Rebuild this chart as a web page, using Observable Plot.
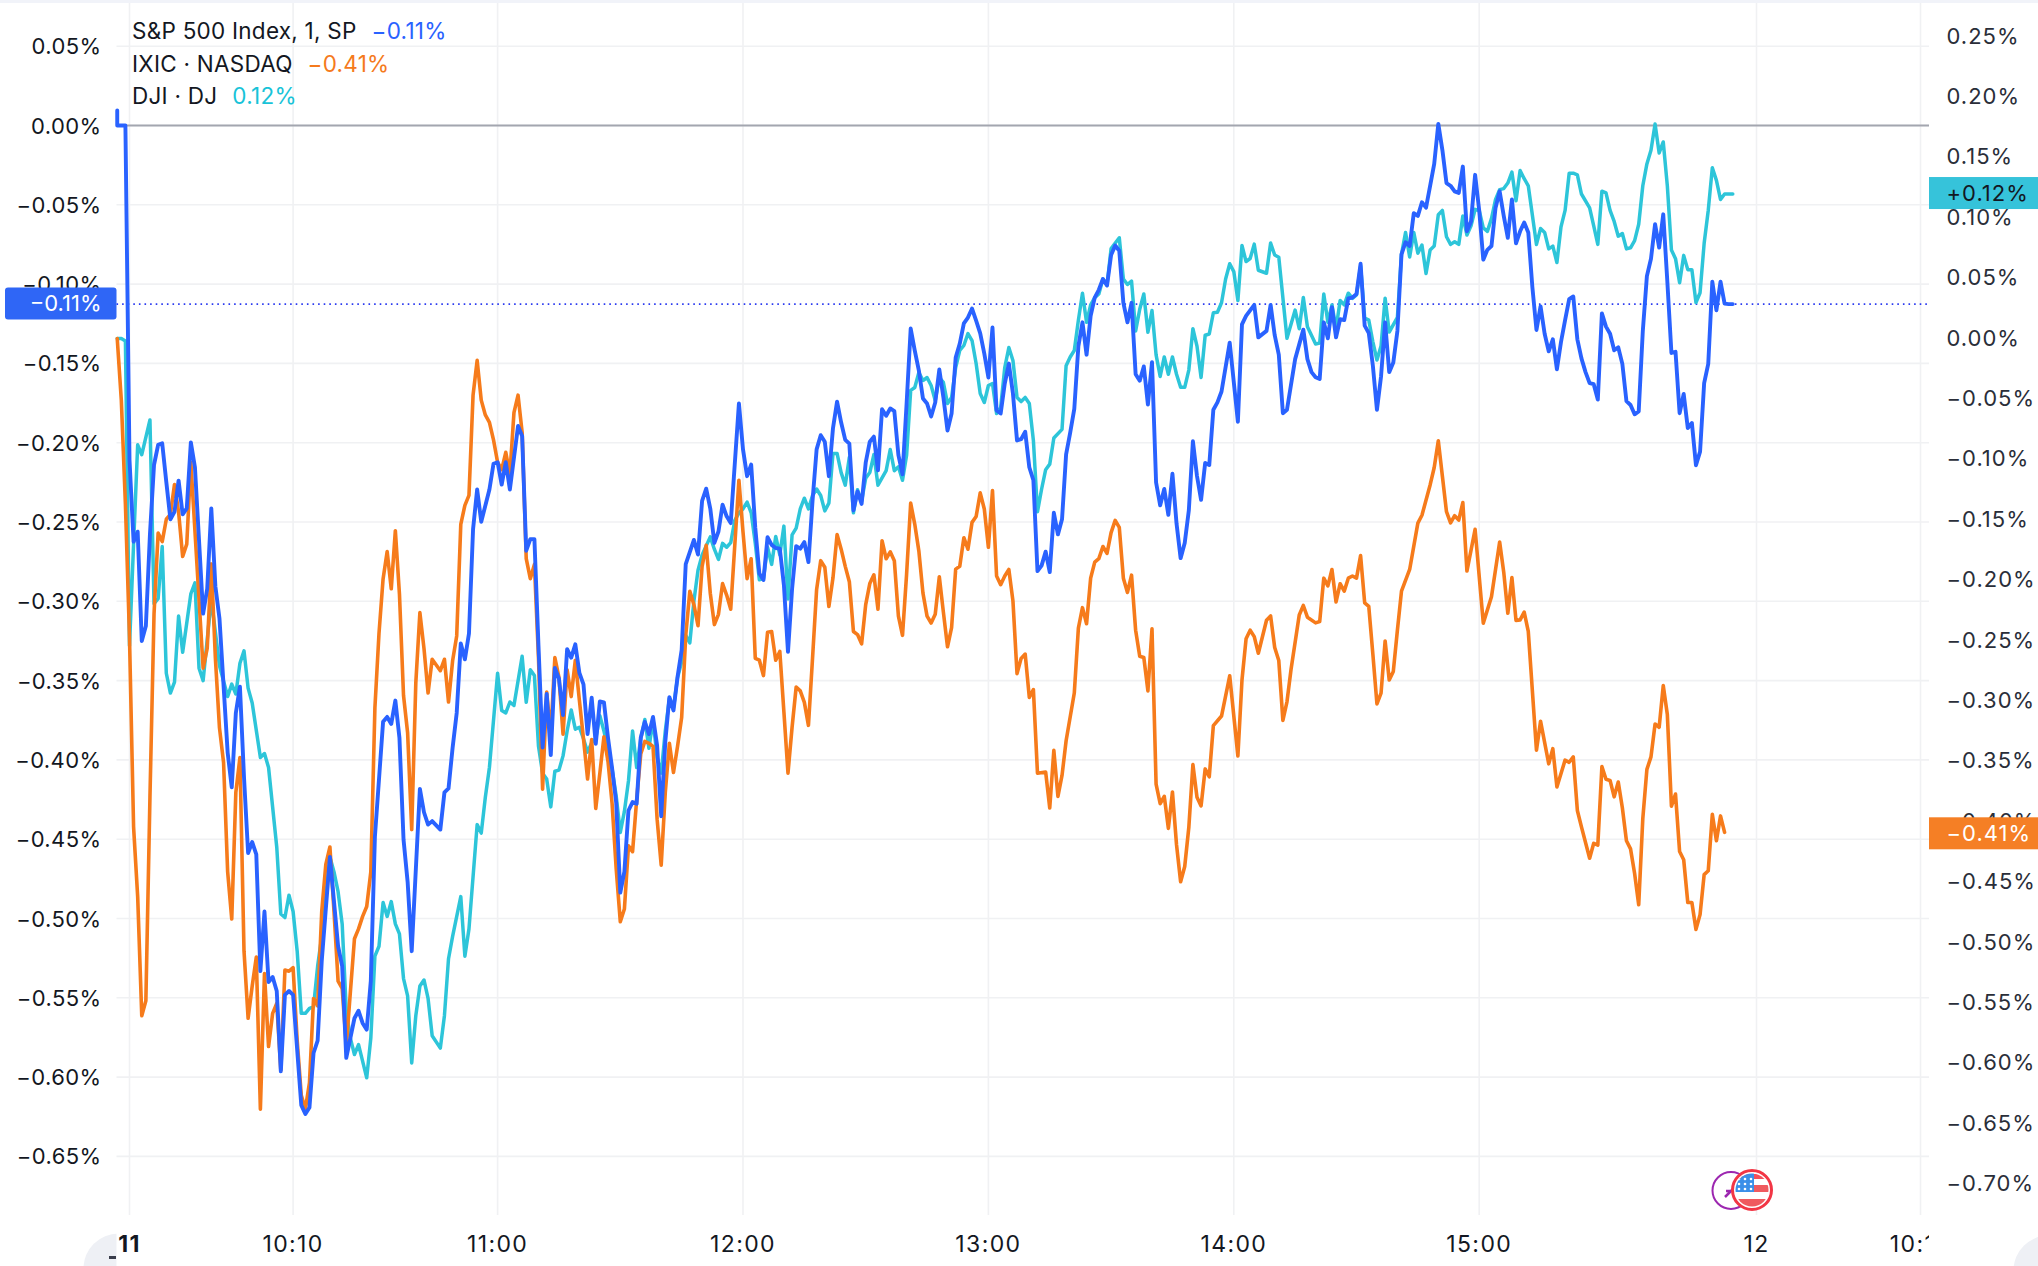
<!DOCTYPE html>
<html>
<head>
<meta charset="utf-8">
<script src="https://cdn.jsdelivr.net/npm/d3@7"></script>
<script src="https://cdn.jsdelivr.net/npm/@observablehq/plot@0.6"></script>
<style>
  html,body{margin:0;padding:0;background:#fff;overflow:hidden}
  #wrap{position:relative;width:2038px;height:1266px}
  #legend{position:absolute;left:132px;top:15px;font:22.5px/32.7px Inter,sans-serif;color:#131722;letter-spacing:.25px}
  #legend span{margin-left:15px}
</style>
</head>
<body>
<div id="wrap"><div id="chart"></div><div id="legend"></div></div>
<script>
// Bars are minutes of the session counted from the 09:30 open (pre-open bars are negative).
// S&P 500 is read on the left axis, IXIC and DJI on the right axis (percent).
const spx = [[-3,.0095],[-3,0],[-2,0],[-1,0],[0,-.2108],[1,-.2624],[2,-.2561],[3,-.325],[4,-.3156],[5,-.2577],[6,-.2139],[7,-.2014],[8,-.2004],[9,-.2248],[10,-.2483],[11,-.2436],[12,-.2239],[13,-.2452],[14,-.2414],[15,-.1998],[16,-.2155],[18,-.3078],[19,-.2921],[20,-.2414],[21,-.2906],[22,-.3109],[24,-.3954],[25,-.4173],[26,-.3704],[27,-.3538],[28,-.4111],[29,-.4587],[30,-.4518],[31,-.4596],[32,-.5332],[33,-.4956],[34,-.54],[35,-.5369],[36,-.5457],[37,-.5964],[38,-.5482],[39,-.5457],[40,-.5482],[42,-.6177],[43,-.6233],[44,-.6192],[45,-.5848],[46,-.577],[47,-.5269],[49,-.4612],[51,-.5175],[52,-.53],[53,-.5879],[55,-.5629],[56,-.5582],[57,-.566],[58,-.5701],[59,-.5394],[60,-.4486],[62,-.376],[63,-.3729],[64,-.3773],[65,-.3626],[66,-.386],[67,-.4502],[68,-.4768],[69,-.5206],[71,-.4183],[72,-.433],[73,-.4408],[74,-.4386],[76,-.4439],[77,-.4205],[78,-.418],[79,-.3923],[80,-.3704],[81,-.3266],[82,-.3366],[83,-.3203],[84,-.2546],[85,-.2295],[86,-.2499],[88,-.2295],[89,-.2133],[90,-.2123],[91,-.2264],[92,-.2123],[93,-.2295],[95,-.1895],
[96,-.1958],[97,-.2681],[98,-.2608],[99,-.2608],[100,-.3283],[101,-.3922],[102,-.3584],[103,-.397],[104,-.342],[105,-.3488],[106,-.3717],[107,-.3302],[108,-.3355],[109,-.3271],[110,-.3452],[111,-.3524],[112,-.3837],[113,-.3608],[114,-.3898],[115,-.3632],[116,-.3637],[117,-.3861],[118,-.4054],[119,-.4271],[120,-.4837],[121,-.4705],[122,-.4319],[123,-.4266],[124,-.4276],[125,-.3861],[126,-.376],[127,-.3837],[128,-.3729],[129,-.391],[130,-.4355],[131,-.3886],[132,-.3604],[133,-.3688],[134,-.3476],[135,-.3307],[136,-.2765],[138,-.2613],[139,-.2705],[140,-.2367],[141,-.229],[142,-.2415],[143,-.2632],[144,-.256],[145,-.2391],[146,-.2464],[147,-.2507],[149,-.1753],[150,-.2042],[151,-.2211],[152,-.2138],[153,-.2536],[154,-.2825],[155,-.2866],[156,-.2596],[157,-.2644],[158,-.2664],[159,-.2668],[160,-.2897],[161,-.3319],[162,-.2922],[163,-.2652],[164,-.2668],[165,-.2627],[166,-.2753],[167,-.2367],[168,-.2042],[169,-.1953],[170,-.1994],[171,-.2211],[172,-.1909],[173,-.1741],[174,-.1873],[175,-.1982],[176,-.2006],[177,-.2427],[178,-.2307],[179,-.2386],[180,-.2126],[181,-.1994],[182,-.1962],[183,-.2174],[184,-.1789],[185,-.183],[186,-.1784],[187,-.1801],[188,-.2078],[189,-.2199],[190,-.1753],
[191,-.128],[192,-.1419],[193,-.1545],[194,-.1721],[195,-.1753],[196,-.1835],[197,-.1747],[198,-.1538],[199,-.1715],[200,-.1923],[201,-.1816],[202,-.1463],[203,-.1375],[204,-.1248],[205,-.1211],[206,-.1154],[207,-.123],[208,-.1311],[209,-.1438],[210,-.1589],[211,-.1274],[212,-.1797],[213,-.1816],[214,-.1627],[215,-.1501],[216,-.169],[217,-.1986],
[218,-.1978],[219,-.1931],[220,-.2155],[221,-.2237],[222,-.281],[223,-.2775],[224,-.2687],[225,-.2816],[226,-.2442],[227,-.2578],[228,-.2483],[229,-.2073],[230,-.1937],[231,-.1787],[232,-.1391],[233,-.1241],[234,-.1445],[235,-.12],[236,-.1085],[237,-.1036],[238,-.0968],[239,-.1009],[240,-.0817],[241,-.0757],[242,-.079],[243,-.1118],[244,-.1241],[245,-.1118],[246,-.1568],[247,-.1609],[248,-.1519],[249,-.1759],[250,-.1492],[251,-.2251],[252,-.2395],[253,-.2292],[254,-.2455],[255,-.2196],[256,-.251],[257,-.2728],[258,-.2633],[259,-.2428],[260,-.1991],[261,-.221],[262,-.236],[263,-.2128],[264,-.2141],[265,-.1792],[266,-.1746],[267,-.1677],[269,-.1369],[271,-.1868],[272,-.1254],[273,-.12],[275,-.1131],[276,-.1336],[278,-.1295],[279,-.1131],[280,-.1322],[281,-.1445],[282,-.1814],[283,-.1792],[285,-.1473],[287,-.1287],[288,-.1473],[289,-.1555],[290,-.1587],[291,-.1598],[292,-.1241],[293,-.1342],[294,-.1145],[295,-.1336],[296,-.1221],[297,-.1227],[298,-.109],[299,-.1085],[300,-.1063],[301,-.0872],[302,-.1262],[303,-.1309],[304,-.1514],[305,-.1792],[306,-.1582],[307,-.1241],[308,-.1555],[309,-.1494],[310,-.1295],
[311,-.0812],[312,-.0736],[313,-.076],[314,-.0553],[315,-.057],[316,-.0484],[317,-.0518],[318,-.038],[319,-.0242],[320,.001],[321,-.0155],[322,-.0363],[323,-.038],[324,-.0415],[325,-.0425],[326,-.0259],[327,-.0667],[328,-.0605],[329,-.0311],[330,-.0535],[331,-.0846],[332,-.0784],[333,-.076],[334,-.0518],[335,-.0415],[336,-.057],[337,-.0708],[338,-.0466],[339,-.0743],[340,-.0667],[341,-.0612],[342,-.0674],[343,-.1019],[344,-.1289],[345,-.114],[346,-.1313],[347,-.1424],[348,-.1348],[349,-.1537],[350,-.1365],[351,-.1227],[352,-.1095],[353,-.1078],[354,-.1348],[355,-.1468],[356,-.1555],[357,-.1624],[358,-.1631],[359,-.1728],[360,-.1185],[361,-.1268],[362,-.1313],[363,-.1417],[364,-.1399],[365,-.1503],[366,-.1738],[367,-.1762],[368,-.1821],[369,-.1803],[370,-.1296],[371,-.095],[372,-.084],[373,-.0622],[374,-.077],[375,-.056],[376,-.0985],[377,-.1434],[378,-.1427],[379,-.1814],[380,-.1693],[381,-.1907],[382,-.1876],[383,-.2142],[384,-.2056],[385,-.1624],[386,-.1503],[387,-.0985],[388,-.1165],[389,-.0985],[390,-.1123],[391,-.1126],[392,-.1126]];

const ixic = [[-3,0],[-2,-.051],[-1,-.137],[0,-.2475],[1,-.4045],[2,-.462],[3,-.5606],[4,-.5483],[5,-.3798],[6,-.2277],[7,-.1611],[8,-.1681],[9,-.1496],[10,-.1455],[11,-.1209],[12,-.1435],[13,-.1805],[14,-.1702],[15,-.1024],[18,-.2729],[19,-.2565],[20,-.1866],[21,-.2647],[22,-.3223],[23,-.351],[24,-.4415],[25,-.4805],[26,-.3757],[27,-.3469],[28,-.5072],[29,-.5627],[30,-.536],[31,-.5121],[32,-.6379],[33,-.5257],[34,-.5861],[35,-.5586],[36,-.5504],[37,-.6059],[38,-.5228],[39,-.5237],[40,-.5208],[41,-.5812],[42,-.6264],[43,-.6379],[44,-.6161],[45,-.5463],[46,-.5524],[47,-.4743],[48,-.4353],[49,-.4209],[50,-.4743],[51,-.5319],[52,-.538],[53,-.5853],[55,-.4969],[56,-.4887],[57,-.4784],[58,-.4702],[59,-.4415],[60,-.3058],[61,-.2442],[62,-.199],[63,-.1764],[64,-.2072],[65,-.1591],[66,-.2113],[67,-.2955],[68,-.3264],[69,-.4065],[70,-.2853],[71,-.2269],[72,-.2565],[73,-.2935],[74,-.2655],[76,-.275],[77,-.2655],[78,-.3009],[79,-.2668],[80,-.2462],[81,-.1538],[82,-.1381],[83,-.1299],[84,-.0469],[85,-.0181],[86,-.051],[87,-.0633],[88,-.0695],[89,-.0839],[90,-.1024],[91,-.1085],[92,-.0942],[93,-.1127],[94,-.0613],[95,-.0469],
[96,-.0777],[97,-.1823],[98,-.1988],[99,-.187],[100,-.2647],[101,-.3731],[102,-.2926],[103,-.3281],[104,-.2641],[105,-.2806],[106,-.3275],[107,-.2742],[108,-.2964],[109,-.2663],[110,-.2996],[111,-.3313],[112,-.3646],[113,-.3319],[114,-.389],[115,-.3598],[116,-.3297],[117,-.3503],[118,-.3852],[119,-.4391],[120,-.4828],[121,-.4723],[122,-.42],[123,-.4248],[124,-.382],[125,-.344],[126,-.3335],[127,-.3351],[128,-.3376],[129,-.3979],[130,-.4359],[131,-.3757],[132,-.3351],[133,-.3592],[134,-.3376],[135,-.3138],[136,-.2457],[137,-.2092],[138,-.2203],[139,-.2378],[140,-.1886],[141,-.1712],[142,-.2108],[143,-.2368],[144,-.2283],[145,-.2029],[146,-.2124],[147,-.2241],[149,-.1173],[150,-.1601],[151,-.1988],[152,-.1823],[153,-.2647],[154,-.2663],[155,-.279],[156,-.2432],[157,-.2425],[158,-.2663],[159,-.259],[160,-.3091],[161,-.3598],[162,-.3218],[163,-.2885],[164,-.2917],[165,-.3012],[166,-.3202],[167,-.2647],[168,-.2077],[169,-.1839],[170,-.1893],[171,-.2219],[172,-.1981],[173,-.1623],[174,-.1744],[175,-.1886],[176,-.2013],[177,-.2425],[178,-.2451],[179,-.2527],[180,-.2203],[181,-.2029],[182,-.1956],[183,-.2241],[184,-.1674],[185,-.1823],[186,-.1766],[187,-.1839],[188,-.2298],[189,-.2457],[190,-.195],[191,-.1363],[192,-.1538],[193,-.176],[194,-.2108],[195,-.2298],[196,-.2355],[197,-.2283],[198,-.1972],[199,-.2267],[200,-.2552],[201,-.2394],[202,-.1909],[203,-.1886],[204,-.1649],[205,-.1744],[206,-.1522],[207,-.1474],[208,-.1278],[209,-.1411],[210,-.1728],[211,-.1259],[212,-.1966],[213,-.2038],[214,-.1966],[215,-.1912],[216,-.2172],[217,-.2774],
[218,-.2648],[219,-.2612],[220,-.2971],[221,-.2906],[222,-.3599],[224,-.3588],[225,-.3886],[226,-.3409],[227,-.379],[228,-.3617],[229,-.333],[231,-.2935],[232,-.2397],[233,-.2228],[234,-.2361],[235,-.1984],[236,-.1851],[237,-.1822],[238,-.1722],[239,-.1779],[240,-.1607],[241,-.1506],[242,-.1564],[243,-.1984],[244,-.2102],[245,-.1959],[246,-.2415],[247,-.263],[248,-.2641],[249,-.2917],[250,-.2404],[251,-.3689],[252,-.3851],[253,-.379],[254,-.4055],[255,-.3754],[256,-.4192],[257,-.4497],[258,-.4371],[259,-.4048],[260,-.3527],[261,-.3797],[262,-.3869],[263,-.3563],[264,-.3628],[265,-.3204],[267,-.3125],[269,-.2792],[271,-.3456],[272,-.2827],[273,-.2486],[274,-.2415],[275,-.2468],[276,-.2605],[278,-.2332],[279,-.2296],[280,-.2558],[281,-.2666],[282,-.3161],[283,-.3007],[284,-.2738],[286,-.2289],[287,-.221],[288,-.2307],[290,-.2354],[291,-.2343],[292,-.1984],[293,-.2048],[294,-.1912],[295,-.2181],[296,-.203],[297,-.2091],[298,-.1984],[299,-.1966],[300,-.1984],[301,-.1797],[302,-.2188],[303,-.2217],[304,-.2612],[305,-.3025],[306,-.2935],[307,-.2504],[308,-.2827],[309,-.2756],[310,-.2415],[311,-.2091],[313,-.1912],[315,-.1528],[316,-.1463],[318,-.1212],[319,-.1068],[320,-.0846],[321,-.114],[322,-.1434],
[323,-.1526],[324,-.1467],[325,-.1503],[326,-.1358],[327,-.1925],[329,-.158],[331,-.2356],[333,-.2138],[335,-.1685],[336,-.1934],[337,-.2274],[338,-.1979],[339,-.2333],[340,-.2329],[341,-.2265],[342,-.2424],[344,-.3408],[345,-.3168],[347,-.3521],[348,-.3395],[349,-.3712],[351,-.349],[352,-.3508],[353,-.3463],[354,-.3907],[355,-.4043],[357,-.4302],[358,-.4179],[359,-.4193],[360,-.3544],[361,-.3649],[362,-.3658],[363,-.3794],[364,-.3671],[365,-.3884],[366,-.4157],[367,-.4225],[368,-.4429],[369,-.4687],[370,-.3975],[371,-.3567],[372,-.3463],[373,-.3191],[374,-.3218],[375,-.2873],[376,-.3113],[377,-.3871],[378,-.3771],[379,-.4247],[380,-.4315],[381,-.4669],[382,-.4669],[383,-.4891],[384,-.4769],[385,-.4438],[386,-.4406],[387,-.3939],[388,-.4157],[389,-.3952],[390,-.4088]];

const dji = [[-3,0],[-2,0],[-1,-.002],[0,-.2544],[1,-.17],[2,-.088],[3,-.0962],[5,-.0674],[6,-.2195],[7,-.2154],[8,-.1722],[9,-.2771],[10,-.2935],[11,-.2845],[12,-.2298],[13,-.2598],[15,-.2113],[16,-.2022],[17,-.2729],[18,-.2832],[20,-.2154],[22,-.2709],[24,-.2964],[25,-.2861],[26,-.2943],[27,-.2688],[28,-.2586],[29,-.2894],[30,-.3017],[32,-.3469],[33,-.3436],[34,-.3551],[36,-.4209],[37,-.4764],[38,-.4793],[39,-.4608],[40,-.4743],[41,-.5072],[42,-.5586],[43,-.5586],[44,-.5545],[45,-.5532],[46,-.5195],[47,-.4949],[49,-.4291],[50,-.4415],[51,-.4579],[52,-.4846],[53,-.5565],[54,-.5791],[55,-.5927],[56,-.5845],[58,-.612],[59,-.5791],[60,-.5113],[61,-.5031],[62,-.4669],[63,-.4784],[64,-.4661],[65,-.4846],[66,-.4928],[67,-.5298],[68,-.5442],[69,-.5997],[70,-.5606],[71,-.536],[72,-.531],[73,-.5463],[74,-.5771],[76,-.5874],[77,-.5606],[78,-.5134],[79,-.4949],[81,-.462],[82,-.5113],[83,-.4887],[85,-.4024],[86,-.4094],[87,-.3798],[88,-.3551],[90,-.2771],[91,-.3079],[92,-.3099],[93,-.3009],[94,-.3038],[96,-.2631],
[97,-.3012],[98,-.2742],[99,-.279],[100,-.3376],[101,-.3598],[102,-.3646],[103,-.3877],[104,-.3582],[105,-.3573],[106,-.3455],[107,-.3249],[108,-.3075],[109,-.3234],[110,-.3218],[111,-.3313],[112,-.3424],[113,-.3345],[114,-.3313],[115,-.3123],[116,-.3249],[117,-.3408],[118,-.3566],[119,-.3788],[120,-.4089],[121,-.3915],[122,-.3662],[123,-.3249],[124,-.3551],[125,-.3313],[126,-.3154],[127,-.3392],[128,-.3154],[129,-.3471],[130,-.3598],[131,-.3249],[132,-.298],[133,-.3059],[134,-.2806],[135,-.2679],[136,-.2457],[137,-.252],[138,-.2172],[139,-.1918],[140,-.1791],[142,-.1642],[143,-.1744],[144,-.1829],[145,-.1696],[146,-.1728],[147,-.169],[148,-.1506],[149,-.1443],[150,-.1411],[151,-.1354],[152,-.1443],[153,-.1696],[154,-.1997],[155,-.1988],[156,-.1728],[157,-.187],[158,-.1639],[159,-.1791],[160,-.1553],[161,-.2156],[162,-.1626],[163,-.1569],[164,-.1411],[165,-.1322],[166,-.1411],[167,-.13],[168,-.1246],[169,-.13],[170,-.1427],[171,-.1363],[172,-.0951],[173,-.0951],[174,-.111],[175,-.1214],[176,-.0983],[177,-.1443],[178,-.1252],[179,-.1347],[180,-.1157],[181,-.111],[182,-.0961],[183,-.1214],[185,-.1094],[186,-.0919],[187,-.1094],[188,-.1062],[189,-.1173],[190,-.0967],
[191,-.043],[192,-.0406],[193,-.0281],[194,-.0348],[195,-.0323],[196,-.0389],[197,-.0513],[198,-.0323],[199,-.0364],[200,-.0538],[201,-.0488],[202,-.024],[203,-.0099],[204,-.0058],[205,.0041],[206,-.0017],[207,-.0207],[208,-.0455],[209,-.053],[210,-.0389],[211,-.0373],[212,-.0621],[213,-.0571],[214,-.024],[215,-.0075],[216,-.0182],[217,-.0488],[218,-.0522],[219,-.0488],[220,-.0538],[221,-.0844],
[222,-.1434],[223,-.1248],[224,-.1086],[225,-.104],[226,-.0824],[228,-.0752],[229,-.0225],[230,-.0153],[231,-.0099],[232,.0152],[233,.0375],[234,.0134],[235,.0278],[236,.0339],[237,.0368],[238,.0493],[239,.044],[240,.0745],[242,.0834],[243,.0493],[244,.0447],[245,.0475],[246,.0063],[247,.0242],[248,.0368],[249,.0052],[250,.0231],[251,-.0135],[252,-.0314],[253,-.0153],[254,-.0296],[255,-.0153],[256,-.0296],[257,-.0404],[258,-.0404],[259,-.0261],[260,.0081],[261,-.0063],[262,-.0322],[263,.0027],[264,.0037],[265,.0213],[266,.0217],[267,.0296],[268,.0493],[269,.0619],[270,.0554],[271,.0314],[272,.077],[273,.0637],[274,.0662],[275,.0781],[276,.0565],[278,.054],[279,.0791],[280,.0691],[281,.0673],[283,.0002],[285,.0235],[286,.0081],[287,.0339],[288,.0098],[290,-.0045],[291,-.0038],[292,.0368],[293,.0134],[294,.0278],[295,.0081],[296,.0314],[297,.0278],[298,.0375],[299,.0332],[300,.036],[301,.0601],[302,.017],[303,.0152],[304,-.0027],[305,-.0178],[306,-.0063],
[307,.0334],[308,.0053],[310,.0175],[311,.0697],[312,.0878],[313,.0674],[314,.0878],[315,.0706],[316,.0774],[317,.0538],[318,.0733],[319,.0765],[320,.1024],[321,.106],[322,.0842],[323,.0779],[324,.0801],[325,.0779],[326,.1014],[327,.0856],[328,.0933],[329,.1069],[330,.106],[331,.0915],[332,.0887],[333,.0992],[334,.1151],[335,.1232],[336,.1241],[337,.1287],[338,.1377],[339,.1141],[340,.1391],[341,.1323],[342,.1264],[344,.0779],[345,.091],[346,.0878],[347,.0742],[348,.0765],[349,.0629],[350,.0924],[351,.106],[352,.1368],[353,.1368],[354,.1355],[355,.1196],[357,.1082],[358,.0933],[359,.0779],[360,.1219],[361,.1205],[362,.106],[363,.0969],[364,.0847],[365,.0869],[366,.0742],[367,.0751],[368,.081],[369,.0946],[370,.1264],[371,.1445],[372,.1559],[373,.1776],[374,.1536],[375,.1627],[376,.1264],[377,.0733],[378,.0661],[379,.0461],[380,.0688],[381,.057],[382,.057],[383,.0298],[384,.0379],[385,.0788],[386,.106],[387,.1414],[388,.1309],[389,.1151],[390,.1196],[392,.1196]];

const leftTicks = [0.05,0,-0.05,-0.10,-0.15,-0.20,-0.25,-0.30,-0.35,-0.40,-0.45,-0.50,-0.55,-0.60,-0.65];
const rightTicks = [0.25,0.20,0.15,0.10,0.05,0,-0.05,-0.10,-0.15,-0.20,-0.25,-0.30,-0.35,-0.40,-0.45,-0.50,-0.55,-0.60,-0.65,-0.70];
const timeBars = [40,90,150,210,270,330,397.8,437.9];
const timeLabels = ["10:10","11:00","12:00","13:00","14:00","15:00","12","10:10"];
const legendRows = [["S&P 500 Index, 1, SP","\u22120.11%","#2962ff"],["IXIC \u00b7 NASDAQ","\u22120.41%","#f57a1c"],["DJI \u00b7 DJ","0.12%","#18c3d8"]];

// Right-axis percent expressed on the left-axis scale.
const rightToLeft = r => -0.1343 + 0.7617 * r;
const pct = v => (v < -1e-6 ? "\u2212" : "") + Math.abs(v).toFixed(2) + "%";

// Page geometry of the plot frame, for overlays only.
const F = {w:2038,h:1266,l:116.5,r:1929,t:3,b:1215};
const pxm = 4.09, x0 = 129, y0 = 125, pyu = 1586;
const X = px => (px - x0) / pxm;
const Y = py => (y0 - py) / pyu;

const series = [
  {name:"DJI", rows:dji, color:"#2dc5d9", conv:rightToLeft, w:3.5},
  {name:"IXIC", rows:ixic, color:"#f67b1b", conv:rightToLeft, w:3.6},
  {name:"SPX", rows:spx, color:"#2962ff", conv:v=>v, w:3.9}
];
const lineMark = s => Plot.line(s.rows.map(([m,v]) => ({m, y:s.conv(v)})),
  {x:"m", y:"y", stroke:s.color, strokeWidth:s.w, strokeLinejoin:"round", strokeLinecap:"round", curve:"linear"});

const tags = [
  {x1:X(5),x2:X(F.l),v:-0.1126,fill:"#2f66f6",ink:"#fff",text:"\u22120.11%",tx:X(101)},
  {x1:X(F.r),x2:X(F.w),v:rightToLeft(0.12),fill:"#36c3da",ink:"#131722",text:"+0.12%",tx:X(1946)},
  {x1:X(F.r),x2:X(F.w),v:rightToLeft(-0.41),fill:"#f57f25",ink:"#fff",text:"\u22120.41%",tx:X(1946)}
];
const tagH = 16 / pyu;

// Flag + lightning badges near the last bar.
function badges(index, {x, y}) {
  const g = d3.create("svg:g");
  const defs = g.append("defs");
  const cx = x(X(1752)), cy = y(Y(1190)), px = x(X(1731));
  defs.append("clipPath").attr("id","flagclip").append("circle").attr("cx",cx).attr("cy",cy).attr("r",16.5);
  g.append("circle").attr("cx",px).attr("cy",cy+0.5).attr("r",18.5).attr("fill","#fff").attr("stroke","#9c27b0").attr("stroke-width",2);
  g.append("path").attr("d",`M${px-6} ${cy+7} L${px+4} ${cy-3} M${px-5} ${cy+1} L${px+5} ${cy+1} L${px+8} ${cy-7}`).attr("fill","none").attr("stroke","#9c27b0").attr("stroke-width",2.5);
  g.append("circle").attr("cx",cx).attr("cy",cy).attr("r",19.5).attr("fill","#fff").attr("stroke","#f23645").attr("stroke-width",3);
  const f = g.append("g").attr("clip-path","url(#flagclip)");
  f.append("rect").attr("x",cx-18).attr("y",cy-16).attr("width",36).attr("height",5).attr("fill","#f4505a");
  f.append("rect").attr("x",cx).attr("y",cy-5).attr("width",18).attr("height",7).attr("fill","#ef5a5f");
  f.append("rect").attr("x",cx-18).attr("y",cy+9).attr("width",36).attr("height",8).attr("fill","#ef5a5f");
  f.append("rect").attr("x",cx-18).attr("y",cy-18).attr("width",20).attr("height",20).attr("fill","#3b8fe8");
  for (let i=0;i<3;i++) for (let j=0;j<3;j++)
    f.append("circle").attr("cx",cx-13+j*6).attr("cy",cy-11+i*5).attr("r",1.3).attr("fill","#fff");
  return g.node();
}

const chart = Plot.plot({
  width:F.w, height:F.h,
  marginLeft:F.l, marginRight:F.w-F.r, marginTop:F.t, marginBottom:F.h-F.b,
  style:{fontFamily:"Inter, sans-serif", fontSize:"22px", background:"#fff", color:"#131722", display:"block"},
  x:{type:"linear", domain:[X(F.l), X(F.r)], axis:null},
  y:{type:"linear", domain:[Y(F.b), Y(F.t)], axis:null},
  marks:[
    Plot.rect([{}],{x1:X(0),x2:X(F.w),y1:Y(3),y2:Y(0),fill:"#f1f3f9"}),
    Plot.gridY(leftTicks,{stroke:"#f0f1f3",strokeOpacity:1,strokeWidth:1.6}),
    Plot.gridX([0,...timeBars],{stroke:"#f0f1f3",strokeOpacity:1,strokeWidth:1.6}),
    Plot.ruleY([0],{stroke:"#a3a6af",strokeWidth:2}),
    Plot.axisY(leftTicks,{anchor:"left",tickSize:0,tickPadding:15.5,label:null,tickFormat:pct,fill:"#131722",fontVariant:"normal",dy:1}),
    Plot.axisY(rightTicks.map(rightToLeft),{anchor:"right",tickSize:0,tickPadding:17,label:null,textAnchor:"start",
      tickFormat:d=>pct(Math.round((d+0.1343)/0.7617*100)/100),fill:"#2a2e39",fontVariant:"normal"}),
    Plot.ruleY([-0.1126],{stroke:"#2b3bf0",strokeWidth:1.6,strokeDasharray:"1.6,4"}),
    ...series.map(lineMark),
    Plot.rect(tags.slice(0,1),{x1:"x1",x2:"x2",y1:d=>d.v-tagH,y2:d=>d.v+tagH,fill:"fill",rx:3}),
    Plot.rect(tags.slice(1),{x1:"x1",x2:"x2",y1:d=>d.v-tagH,y2:d=>d.v+tagH,fill:"fill"}),
    Plot.text(tags.slice(0,1),{x:"tx",y:"v",text:"text",fill:"ink",textAnchor:"end",fontSize:22,fontVariant:"normal"}),
    Plot.text(tags.slice(1),{x:"tx",y:"v",text:"text",fill:"ink",textAnchor:"start",fontSize:22,fontVariant:"normal",className:"righttag"}),
    // session markers at the foot of the frame
    Plot.dot([{m:X(118),v:Y(1268)}],{x:"m",y:"v",r:35,fill:"#eef0f5",stroke:null}),
    Plot.rect([{}],{x1:X(F.l),x2:X(200),y1:Y(1216),y2:Y(1266),fill:"#fff"}),
    Plot.rect([{}],{x1:X(109),x2:X(116),y1:Y(1256),y2:Y(1259),fill:"#3a3e4c"}),
    Plot.axisX([0],{anchor:"bottom",tickSize:0,tickPadding:20,label:null,tickFormat:()=>"11",fontWeight:"bold",fontVariant:"normal",fill:"#131722",fontSize:23}),
    Plot.axisX(timeBars,{anchor:"bottom",tickSize:0,tickPadding:20,label:null,tickFormat:d=>timeLabels[timeBars.indexOf(d)],fontVariant:"normal",fill:"#131722",fontSize:23}),
    Plot.rect([{}],{x1:X(F.r),x2:X(F.w),y1:Y(1216),y2:Y(1266),fill:"#fff"}),
    Plot.dot([{m:X(2048),v:Y(1270)}],{x:"m",y:"v",r:35,fill:"#eef0f5",stroke:null}),
    badges
  ]
});
chart.querySelectorAll('g[aria-label="y-axis tick label"]').forEach(g => {
  g.style.letterSpacing = g.getAttribute("text-anchor") === "start" ? "1px" : "0.4px";
});
chart.querySelectorAll('g[aria-label="x-axis tick label"]').forEach(g => { g.style.letterSpacing = "1.4px"; });
chart.querySelectorAll('.righttag').forEach(g => { g.style.letterSpacing = "1px"; });
document.getElementById("chart").append(chart);
const lg = d3.select("#legend");
legendRows.forEach(([name,val,col]) => {
  const row = lg.append("div");
  row.append("b").style("font-weight","400").text(name);
  row.append("span").style("color",col).text(val);
});
</script>
</body>
</html>
